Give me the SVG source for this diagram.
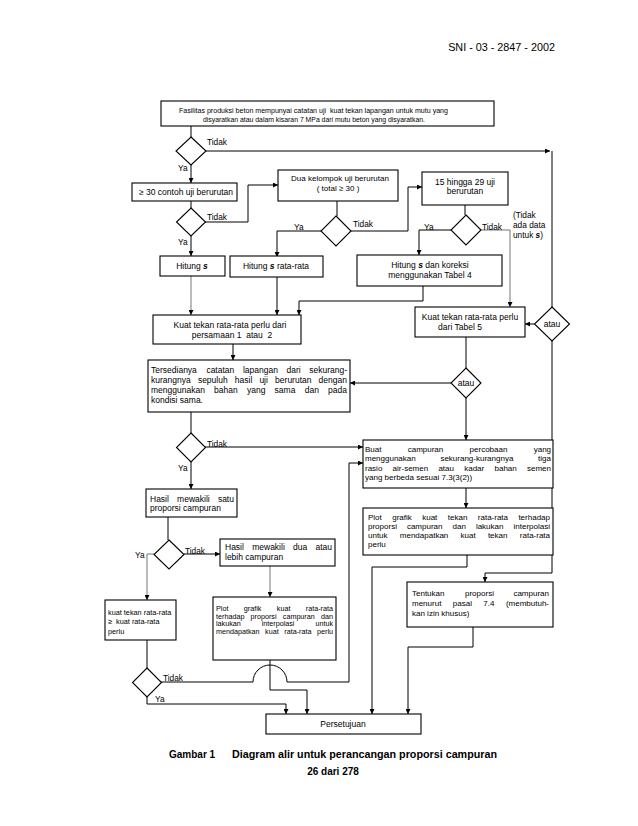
<svg xmlns="http://www.w3.org/2000/svg" width="638" height="826" viewBox="0 0 638 826">
<style>
.box{fill:#fff;stroke:#000;stroke-width:1.1}
.t{font-family:"Liberation Sans",Arial,sans-serif;font-size:8.5px;fill:#000}
.s7{font-size:7px}
.s72{font-size:7.2px}
.s73{font-size:7.3px}
.s8{font-size:8px}
.c{text-anchor:middle}
.lbl{font-family:"Liberation Sans",Arial,sans-serif;font-size:8.3px;fill:#000}
.ln{fill:none;stroke:#000;stroke-width:1}
.g{stroke:#777}
.bi{font-weight:bold;font-style:italic}
.cap{font-family:"Liberation Sans",Arial,sans-serif;font-weight:bold;font-size:10px;fill:#000}
</style>
<defs>
<marker id="ah" viewBox="0 0 6 6" refX="6" refY="3" markerWidth="5" markerHeight="5" markerUnits="userSpaceOnUse" orient="auto"><path d="M0,0 L6,3 L0,6 z" fill="#000"/></marker>
</defs>
<rect width="638" height="826" fill="#fff"/>
<text class="t" x="555" y="51" text-anchor="end" style="font-size:10.8px">SNI - 03 - 2847 - 2002</text>

<g id="connectors">
<path class="ln" d="M191 126 V137"/>
<path class="ln" d="M206 151 H550" marker-end="url(#ah)"/>
<path class="ln" d="M552 151 V307"/>
<path class="ln" d="M191 165 V183" marker-end="url(#ah)"/>
<path class="ln" d="M191 201 V208"/>
<path class="ln" d="M205 222 H248 V185 H278" marker-end="url(#ah)"/>
<path class="ln" d="M191 236 V256" marker-end="url(#ah)"/>
<path class="ln" d="M337 201 V216"/>
<path class="ln" d="M321 231 H277 V257" marker-end="url(#ah)"/>
<path class="ln" d="M351 231 H408 V187 H422" marker-end="url(#ah)"/>
<path class="ln" d="M465 205 V215"/>
<path class="ln" d="M452 230 H419 V255" marker-end="url(#ah)"/>
<path class="ln g" d="M481 230 H510 V307" marker-end="url(#ah)"/>
<path class="ln g" d="M191 276 V315" marker-end="url(#ah)"/>
<path class="ln" d="M277 277 V315" marker-end="url(#ah)"/>
<path class="ln" d="M423 286 V301 H299 V315" marker-end="url(#ah)"/>
<path class="ln" d="M534 324 H525" marker-end="url(#ah)"/>
<path class="ln" d="M552 341 V573 H485 V582" marker-end="url(#ah)"/>
<path class="ln" d="M233 344 V360" marker-end="url(#ah)"/>
<path class="ln" d="M466 337 V368"/>
<path class="ln" d="M451 383 H350" marker-end="url(#ah)"/>
<path class="ln" d="M466 398 V440" marker-end="url(#ah)"/>
<path class="ln" d="M191 412 V433"/>
<path class="ln" d="M205 447 H363" marker-end="url(#ah)"/>
<path class="ln" d="M191 462 V489" marker-end="url(#ah)"/>
<path class="ln" d="M466 488 V508" marker-end="url(#ah)"/>
<path class="ln" d="M168 517 V540"/>
<path class="ln" d="M184 554 H220" marker-end="url(#ah)"/>
<path class="ln g" d="M154 554 H147 V600" marker-end="url(#ah)"/>
<path class="ln g" d="M270 566 V597" marker-end="url(#ah)"/>
<path class="ln" d="M147 640 V668"/>
<path class="ln" d="M161 682 H253 A17 17 0 0 1 287 682 H349 V463 H363" marker-end="url(#ah)"/>
<path class="ln" d="M270 660 V690 H307 V714" marker-end="url(#ah)"/>
<path class="ln" d="M147 697 V704 H286 V714" marker-end="url(#ah)"/>
<path class="ln" d="M467 555 V567 H372 V714" marker-end="url(#ah)"/>
<path class="ln" d="M473 627 V647 H408 V714" marker-end="url(#ah)"/>
</g>

<g id="labels">
<text class="lbl" x="207" y="145">Tidak</text>
<text class="lbl" x="178" y="171">Ya</text>
<text class="lbl" x="207" y="220">Tidak</text>
<text class="lbl" x="178" y="245">Ya</text>
<text class="lbl" x="294" y="230">Ya</text>
<text class="lbl" x="353" y="227">Tidak</text>
<text class="lbl" x="424" y="230">Ya</text>
<text class="lbl" x="482" y="230">Tidak</text>
<text class="lbl" x="513" y="218">(Tidak</text>
<text class="lbl" x="513" y="228">ada data</text>
<text class="lbl" x="513" y="238">untuk <tspan class="bi">s</tspan>)</text>
<text class="lbl" x="207" y="447">Tidak</text>
<text class="lbl" x="178" y="471">Ya</text>
<text class="lbl" x="185" y="554">Tidak</text>
<text class="lbl" x="135" y="558">Ya</text>
<text class="lbl" x="163" y="681">Tidak</text>
<text class="lbl" x="155" y="702">Ya</text>
</g>

<g id="n-top">
<rect class="box" x="161" y="101" width="333" height="25"/>
<text class="t s7" x="179" y="112.5" textLength="269" lengthAdjust="spacingAndGlyphs" xml:space="preserve">Fasilitas produksi beton mempunyai catatan uji  kuat tekan lapangan untuk mutu yang</text>
<text class="t s7" x="203" y="121.5" textLength="222" lengthAdjust="spacingAndGlyphs">disyaratkan atau dalam kisaran 7 MPa dari mutu beton yang disyaratkan.</text>
</g>
<g id="d1"><polygon class="box" points="191,137 206,151 191,165 176,151"/></g>
<g id="n-30"><rect class="box" x="132" y="183" width="105" height="18"/>
<text class="t c" x="186" y="195">≥ 30 contoh uji berurutan</text></g>
<g id="d2"><polygon class="box" points="191,208 205.5,222 191,236 176.5,222"/></g>
<g id="n-dua"><rect class="box" x="278" y="170" width="120" height="31"/>
<text class="t s8 c" x="340" y="180.5">Dua kelompok uji berurutan</text>
<text class="t s8 c" x="338" y="190.5">( total ≥ 30 )</text></g>
<g id="d3"><polygon class="box" points="336,216 351,231 336,246 321,231"/></g>
<g id="n-15"><rect class="box" x="422" y="172" width="86" height="33"/>
<text class="t c" x="465" y="185">15 hingga 29 uji</text>
<text class="t c" x="465" y="194">berurutan</text></g>
<g id="d4"><polygon class="box" points="466,215 481,230 466,245 451,230"/></g>
<g id="n-hs"><rect class="box" x="160" y="256" width="65" height="20"/>
<text class="t c" x="192" y="269">Hitung <tspan class="bi">s</tspan></text></g>
<g id="n-hsr"><rect class="box" x="230" y="256" width="93" height="21"/>
<text class="t c" x="276" y="269">Hitung <tspan class="bi">s</tspan> rata-rata</text></g>
<g id="n-hsk"><rect class="box" x="357" y="255" width="145" height="31"/>
<text class="t c" x="430" y="268">Hitung <tspan class="bi">s</tspan> dan koreksi</text>
<text class="t c" x="430" y="278">menggunakan Tabel 4</text></g>
<g id="n-kt1"><rect class="box" x="153" y="315" width="148" height="29"/>
<text class="t c" x="230" y="328">Kuat tekan rata-rata perlu dari</text>
<text class="t c" x="232" y="338" xml:space="preserve">persamaan 1  atau  2</text></g>
<g id="n-kt5"><rect class="box" x="415" y="307" width="110" height="30"/>
<text class="t c" x="470" y="320">Kuat tekan rata-rata perlu</text>
<text class="t c" x="460" y="330">dari Tabel 5</text></g>
<g id="d-atau1"><polygon class="box" points="552,307 569.5,324 552,341 534.5,324"/>
<text class="t c" x="552" y="327">atau</text></g>
<g id="d-atau2"><polygon class="box" points="466,368 481,383 466,398 451,383"/>
<text class="t c" x="466" y="386">atau</text></g>
<g id="n-ters"><rect class="box" x="148" y="360" width="202" height="52"/>
<text class="t" y="373"><tspan x="151">Tersedianya</tspan><tspan x="206.4">catatan</tspan><tspan x="242.9">lapangan</tspan><tspan x="286.5">dari</tspan><tspan x="309.3">sekurang-</tspan></text>
<text class="t" y="383"><tspan x="151">kurangnya</tspan><tspan x="197.9">sepuluh</tspan><tspan x="234.8">hasil</tspan><tspan x="259.4">uji</tspan><tspan x="275.1">berurutan</tspan><tspan x="318.6">dengan</tspan></text>
<text class="t" y="393"><tspan x="151">menggunakan</tspan><tspan x="214.1">bahan</tspan><tspan x="247">yang</tspan><tspan x="274.6">sama</tspan><tspan x="304.7">dan</tspan><tspan x="328.1">pada</tspan></text>
<text class="t" x="151" y="403">kondisi sama.</text></g>
<g id="d5"><polygon class="box" points="191,433 205.5,447.5 191,462 176.5,447.5"/></g>
<g id="n-buat"><rect class="box" x="363" y="440" width="190" height="48"/>
<text class="t s8" y="452"><tspan x="365">Buat</tspan><tspan x="407.7">campuran</tspan><tspan x="469.6">percobaan</tspan><tspan x="533.7">yang</tspan></text>
<text class="t s8" y="461"><tspan x="365">menggunakan</tspan><tspan x="440.4">sekurang-kurangnya</tspan><tspan x="538.1">tiga</tspan></text>
<text class="t s8" y="470.5"><tspan x="365">rasio</tspan><tspan x="392.6">air-semen</tspan><tspan x="438.4">atau</tspan><tspan x="464.2">kadar</tspan><tspan x="494.5">bahan</tspan><tspan x="527">semen</tspan></text>
<text class="t s8" x="365" y="479.5">yang berbeda sesuai 7.3(3(2))</text></g>
<g id="n-plot2"><rect class="box" x="363" y="508" width="190" height="47"/>
<text class="t s8" y="519.5"><tspan x="368">Plot</tspan><tspan x="392.2">grafik</tspan><tspan x="422.2">kuat</tspan><tspan x="447.8">tekan</tspan><tspan x="477.8">rata-rata</tspan><tspan x="518.4">terhadap</tspan></text>
<text class="t s8" y="528.5"><tspan x="368">proporsi</tspan><tspan x="406.9">campuran</tspan><tspan x="452.6">dan</tspan><tspan x="475.9">lakukan</tspan><tspan x="513.5">interpolasi</tspan></text>
<text class="t s8" y="538"><tspan x="368">untuk</tspan><tspan x="399.8">mendapatkan</tspan><tspan x="460.6">kuat</tspan><tspan x="487.9">tekan</tspan><tspan x="519.8">rata-rata</tspan></text>
<text class="t s8" x="368" y="546.5">perlu</text></g>
<g id="n-satu"><rect class="box" x="146" y="489" width="91" height="28"/>
<text class="t" y="502"><tspan x="150">Hasil</tspan><tspan x="177.1">mewakili</tspan><tspan x="217.9">satu</tspan></text>
<text class="t" x="150" y="511">proporsi campuran</text></g>
<g id="d6"><polygon class="box" points="169,540 184,554.5 169,569 154,554.5"/></g>
<g id="n-dua2"><rect class="box" x="220" y="539" width="115" height="27"/>
<text class="t" y="550"><tspan x="225">Hasil</tspan><tspan x="252.2">mewakili</tspan><tspan x="293">dua</tspan><tspan x="315.5">atau</tspan></text>
<text class="t" x="225" y="560">lebih campuran</text></g>
<g id="n-kuat"><rect class="box" x="105" y="600" width="71" height="40"/>
<text class="t s73" x="108" y="614.5">kuat tekan rata-rata</text>
<text class="t s73" x="108" y="623.5" xml:space="preserve">≥  kuat rata-rata</text>
<text class="t s73" x="108" y="633.5">perlu</text></g>
<g id="n-plot1"><rect class="box" x="213" y="597" width="123" height="63"/>
<text class="t s72" y="610.5"><tspan x="216">Plot</tspan><tspan x="243.8">grafik</tspan><tspan x="276.8">kuat</tspan><tspan x="305.8">rata-rata</tspan></text>
<text class="t s72" y="618.5"><tspan x="216">terhadap</tspan><tspan x="250.6">proporsi</tspan><tspan x="282.8">campuran</tspan><tspan x="321">dan</tspan></text>
<text class="t s72" y="626"><tspan x="216">lakukan</tspan><tspan x="261.7">interpolasi</tspan><tspan x="315.4">untuk</tspan></text>
<text class="t s72" y="633.5"><tspan x="216">mendapatkan</tspan><tspan x="265.1">kuat</tspan><tspan x="284.3">rata-rata</tspan><tspan x="317">perlu</tspan></text></g>
<g id="n-tentukan"><rect class="box" x="407" y="582" width="146" height="45"/>
<text class="t s8" y="596"><tspan x="412">Tentukan</tspan><tspan x="465">proporsi</tspan><tspan x="513.4">campuran</tspan></text>
<text class="t s8" y="606"><tspan x="412">menurut</tspan><tspan x="452.8">pasal</tspan><tspan x="483.3">7.4</tspan><tspan x="505.9">(membutuh-</tspan></text>
<text class="t s8" x="412" y="615.5">kan izin khusus)</text></g>
<g id="d7"><polygon class="box" points="147,668 161.5,682.5 147,697 132.5,682.5"/></g>
<g id="n-pers"><rect class="box" x="266" y="714" width="155" height="20"/>
<text class="t c" x="343" y="727">Persetujuan</text></g>

<text class="cap" x="169" y="758">Gambar 1</text>
<text class="cap" x="232" y="758" textLength="265" lengthAdjust="spacingAndGlyphs">Diagram alir untuk perancangan proporsi campuran</text>
<text class="cap c" x="333" y="775">26 dari 278</text>
</svg>
